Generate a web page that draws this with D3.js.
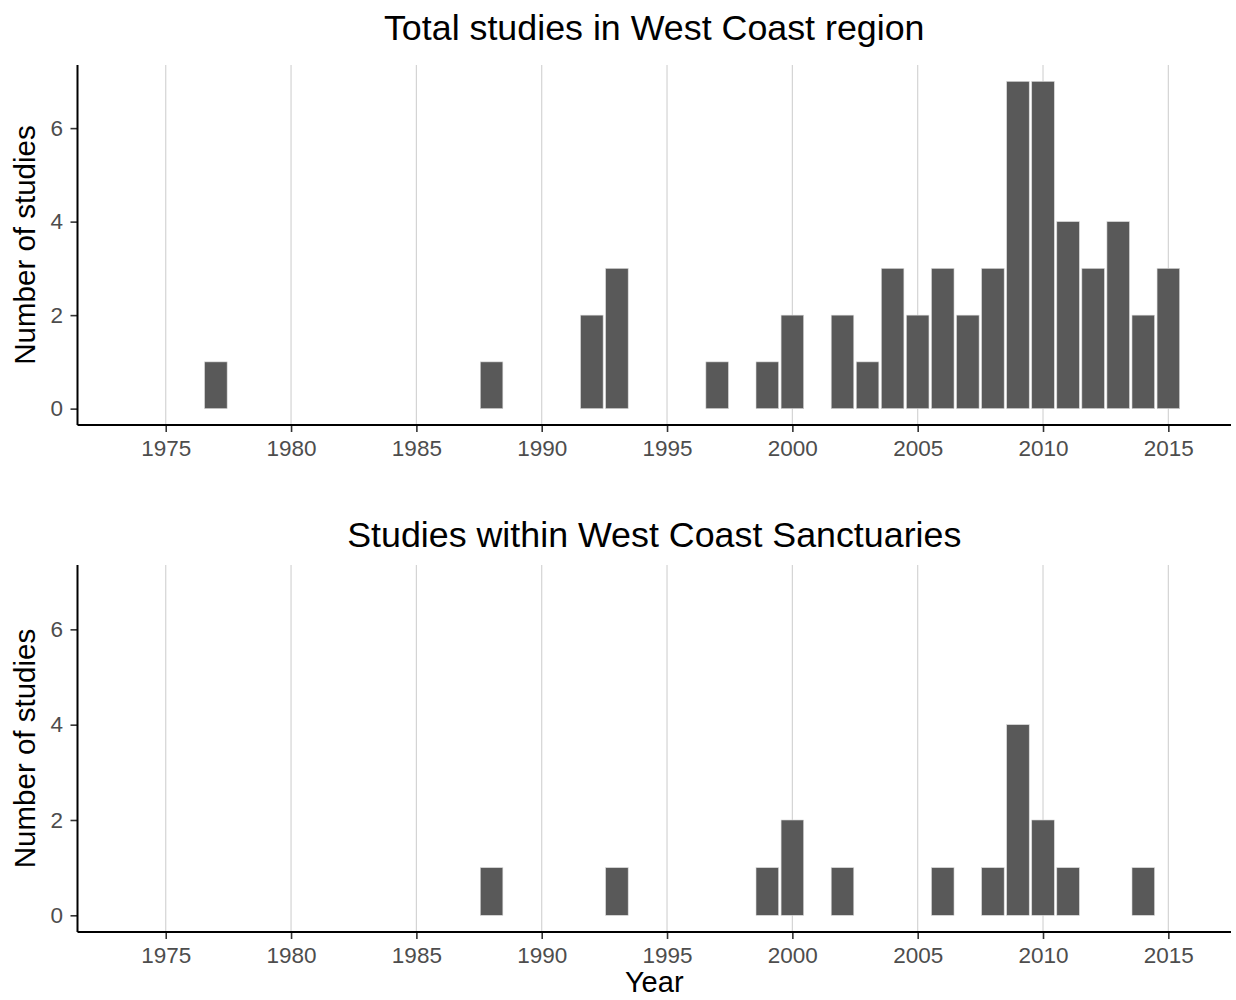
<!DOCTYPE html>
<html>
<head>
<meta charset="utf-8">
<script src="https://cdn.jsdelivr.net/npm/d3@7"></script>
<style>
  body { margin: 0; background: #fff; }
  svg { display: block; font-family: "Liberation Sans", Arial, sans-serif; }
</style>
</head>
<body>
<svg id="chart" width="1236" height="1000"></svg>
<script>
// ---- data ----
const totalYears  = [1977, 1988, 1992, 1993, 1997, 1999, 2000, 2002, 2003, 2004, 2005, 2006, 2007, 2008, 2009, 2010, 2011, 2012, 2013, 2014, 2015];
const totalCounts = [1,    1,    2,    3,    1,    1,    2,    2,    1,    3,    2,    3,    2,    3,    7,    7,    4,    3,    4,    2,    3];
const sanctYears  = [1988, 1993, 1999, 2000, 2002, 2006, 2008, 2009, 2010, 2011, 2014];
const sanctCounts = [1,    1,    1,    2,    1,    1,    1,    4,    2,    1,    1];
const xTicks = [1975, 1980, 1985, 1990, 1995, 2000, 2005, 2010, 2015];
const yTicks = [0, 2, 4, 6];
const titles = ["Total studies in West Coast region", "Studies within West Coast Sanctuaries"];
const yLabel = "Number of studies";
const xLabel = "Year";

const svg = d3.select("#chart");
const left = 77.5, right = 1231;
const x = d3.scaleLinear().domain([1971.48, 2017.5]).range([left, right]);
const yDomain = [-0.35, 7.35];
const tickFont = "22.5px";

const panels = [
  { title: titles[0], years: totalYears, counts: totalCounts, top: 65, bottom: 425, titleY: 39.5 },
  { title: titles[1], years: sanctYears, counts: sanctCounts, top: 565, bottom: 932, titleY: 547 }
];

panels.forEach((p, pi) => {
  const y = d3.scaleLinear().domain(yDomain).range([p.bottom, p.top]);
  const g = svg.append("g");

  // grid
  g.append("g").selectAll("line").data(xTicks).join("line")
    .attr("x1", d => x(d)).attr("x2", d => x(d))
    .attr("y1", p.top).attr("y2", p.bottom)
    .attr("stroke", "#d4d4d4").attr("stroke-width", 1.2);

  // bars
  const data = p.years.map((yr, i) => ({ year: yr, n: p.counts[i] }));
  const bw = (x(1) - x(0)) * 0.9;
  g.append("g").selectAll("rect").data(data).join("rect")
    .attr("x", d => x(d.year) - bw / 2)
    .attr("width", bw)
    .attr("y", d => y(d.n))
    .attr("height", d => y(0) - y(d.n))
    .attr("fill", "#595959")
    .attr("stroke", "#d9d9d9").attr("stroke-width", 0.6);

  // x axis
  const xa = g.append("g").attr("transform", `translate(0,${p.bottom})`)
    .call(d3.axisBottom(x).tickValues(xTicks).tickFormat(d3.format("d")).tickSize(7).tickPadding(8.5));
  xa.select(".domain").remove();
  xa.selectAll(".tick line").attr("stroke", "#333").attr("stroke-width", 1.6);
  xa.selectAll(".tick text").attr("fill", "#4d4d4d").style("font-size", tickFont)
    .style("font-family", "Liberation Sans, Arial, sans-serif");
  g.append("line").attr("x1", left).attr("x2", right).attr("y1", p.bottom).attr("y2", p.bottom)
    .attr("stroke", "#000").attr("stroke-width", 2);

  // y axis
  const ya = g.append("g").attr("transform", `translate(${left},0)`)
    .call(d3.axisLeft(y).tickValues(yTicks).tickFormat(d3.format("d")).tickSize(7).tickPadding(7.5));
  ya.select(".domain").remove();
  ya.selectAll(".tick line").attr("stroke", "#333").attr("stroke-width", 1.6);
  ya.selectAll(".tick text").attr("fill", "#4d4d4d").style("font-size", tickFont)
    .style("font-family", "Liberation Sans, Arial, sans-serif");
  g.append("line").attr("x1", left).attr("x2", left).attr("y1", p.top).attr("y2", p.bottom)
    .attr("stroke", "#000").attr("stroke-width", 2);

  // title
  g.append("text").attr("x", (left + right) / 2).attr("y", p.titleY)
    .attr("text-anchor", "middle").style("font-size", "35.8px").attr("fill", "#000")
    .text(p.title);

  // y label
  g.append("text")
    .attr("transform", `translate(35,${(p.top + p.bottom) / 2}) rotate(-90)`)
    .attr("text-anchor", "middle").style("font-size", "29.5px").attr("fill", "#000")
    .text(yLabel);
});

svg.append("text").attr("x", (left + right) / 2).attr("y", 992)
  .attr("text-anchor", "middle").style("font-size", "29px").attr("fill", "#000")
  .text(xLabel);
</script>
</body>
</html>
